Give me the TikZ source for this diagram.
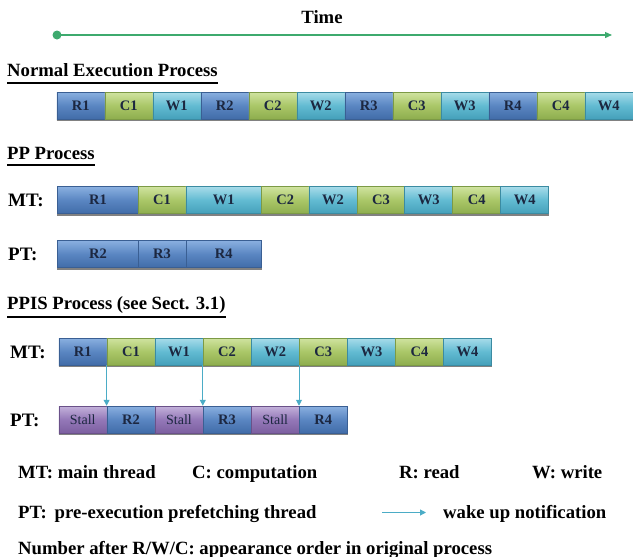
\documentclass[tikz,border=0pt]{standalone}
\usepackage{fontspec}
\setmainfont{Liberation Serif}
\usetikzlibrary{arrows.meta}
\definecolor{Rtop}{HTML}{8AB0E0}
\definecolor{Rmid}{HTML}{5A86C2}
\definecolor{Rbot}{HTML}{416CA8}
\definecolor{Rbd}{HTML}{3A5F93}
\definecolor{Ctop}{HTML}{D0E3A0}
\definecolor{Cmid}{HTML}{AAC768}
\definecolor{Cbot}{HTML}{8EAD4E}
\definecolor{Cbd}{HTML}{7C9A45}
\definecolor{Wtop}{HTML}{A8DCEA}
\definecolor{Wmid}{HTML}{62BBD2}
\definecolor{Wbot}{HTML}{45A0BA}
\definecolor{Wbd}{HTML}{3B8BA2}
\definecolor{Stop}{HTML}{C4B2DB}
\definecolor{Smid}{HTML}{9478B8}
\definecolor{Sbot}{HTML}{7C5FA0}
\definecolor{Sbd}{HTML}{6A5189}
\definecolor{celltext}{HTML}{1C2740}
\definecolor{timegreen}{HTML}{3DAA6E}
\definecolor{wakecol}{HTML}{4BACC6}
\begin{document}
\begin{tikzpicture}[x=1pt,y=-1pt,
  txt/.style={inner sep=0pt, font=\fontsize{18.7}{21}\selectfont\bfseries},
  head/.style={txt, anchor=base west},
  lbl/.style={txt, font=\fontsize{19}{21}\selectfont\bfseries, anchor=west},
  cell/.style={rectangle, inner sep=0pt, minimum height=27pt, anchor=west, text=celltext,
     font=\fontsize{14.5}{16}\selectfont\bfseries, line width=0.5pt},
  rb/.style={cell, draw=Rbd, top color=Rtop, bottom color=Rbot, middle color=Rmid},
  cb/.style={cell, draw=Cbd, top color=Ctop, bottom color=Cbot, middle color=Cmid},
  wb/.style={cell, draw=Wbd, top color=Wtop, bottom color=Wbot, middle color=Wmid},
  sb/.style={cell, draw=Sbd, top color=Stop, bottom color=Sbot, middle color=Smid,
     font=\fontsize{14}{16}\selectfont},
  rowshadow/.style={draw=black!70, line width=1.5pt, opacity=0.7},
  uline/.style={draw=black, line width=1.8pt},
  wake/.style={draw=wakecol, line width=1pt, -{Triangle[length=6pt,width=6pt]}},
  timeline/.style={draw=timegreen, line width=1.3pt, -{Triangle[length=7pt,width=6pt]}},
  dot/.style={circle, fill=timegreen, inner sep=0pt, minimum size=9pt}
]
\useasboundingbox (0,0) rectangle (633,557);

% time axis
\node[txt, anchor=base] (time) at (322,23) {Time};
\node[dot] (t0) at (57,35) {};
\coordinate (t1) at (612,35);
\draw[timeline] (t0.center) -- (t1);

% Normal execution
\node[head] (h1) at (7,76.5) {Normal Execution Process};
\draw[uline] (h1.west |- 0,83) -- (h1.east |- 0,83);
\foreach \lab/\typ [count=\i] in {R1/rb,C1/cb,W1/wb,R2/rb,C2/cb,W2/wb,R3/rb,C3/cb,W3/wb,R4/rb,C4/cb,W4/wb}
  \node[\typ, minimum width=48pt] (n\i) at ({56.5+48*(\i-1)},105.5) {\lab};
\draw[rowshadow] ([yshift=-1pt]n1.south west) -- ([yshift=-1pt]n12.south east);

% PP process
\node[head] (h2) at (7,159) {PP Process};
\draw[uline] (h2.west |- 0,165) -- (h2.east |- 0,165);
\node[lbl] (lmt1) at (8,200) {MT:};
\node[lbl] (lpt1) at (8,254) {PT:};
\foreach \lab/\typ/\xa/\xb [count=\i] in {R1/rb/57.3/138,C1/cb/138/185.5,W1/wb/185.5/261.3,C2/cb/261.3/308.5,W2/wb/308.5/357,C3/cb/357/404.4,W3/wb/404.4/452.4,C4/cb/452.4/500.4,W4/wb/500.4/548.4}
  \node[\typ, minimum width={\xb-\xa}] (a\i) at (\xa,200) {\lab};
\draw[rowshadow] ([yshift=-1pt]a1.south west) -- ([yshift=-1pt]a9.south east);
\foreach \lab/\typ/\xa/\xb [count=\i] in {R2/rb/57.3/138,R3/rb/138/185.5,R4/rb/185.5/261.3}
  \node[\typ, minimum width={\xb-\xa}] (b\i) at (\xa,254) {\lab};
\draw[rowshadow] ([yshift=-1pt]b1.south west) -- ([yshift=-1pt]b3.south east);

% PPIS process
\node[head] (h3) at (7,309.5) {PPIS Process (see Sect. 3.1)};
\draw[uline] (h3.west |- 0,317) -- (h3.east |- 0,317);
\node[lbl] (lmt2) at (10,352) {MT:};
\node[lbl] (lpt2) at (10,420) {PT:};
\foreach \lab/\typ [count=\i] in {R1/rb,C1/cb,W1/wb,C2/cb,W2/wb,C3/cb,W3/wb,C4/cb,W4/wb}
  \node[\typ, minimum width=48.1pt] (m\i) at ({58.5+48.1*(\i-1)},351.5) {\lab};
\draw[rowshadow] ([yshift=-1pt]m1.south west) -- ([yshift=-1pt]m9.south east);
\foreach \lab/\typ [count=\i] in {Stall/sb,R2/rb,Stall/sb,R3/rb,Stall/sb,R4/rb}
  \node[\typ, minimum width=48.1pt] (p\i) at ({58.5+48.1*(\i-1)},419.5) {\lab};
\draw[rowshadow] ([yshift=-1pt]p1.south west) -- ([yshift=-1pt]p6.south east);
\draw[wake] (m2.south west) -- (p2.north west);
\draw[wake] (m4.south west) -- (p4.north west);
\draw[wake] (m6.south west) -- (p6.north west);

% legend
\node[txt, anchor=base west] (g1) at (18,478) {MT: main thread};
\node[txt, anchor=base west] (g2) at (192,478) {C: computation};
\node[txt, anchor=base west] (g3) at (399,478) {R: read};
\node[txt, anchor=base west] (g4) at (532,478) {W: write};
\node[txt, anchor=base west] (g5) at (18,518) {PT:\, pre-execution prefetching thread};
\coordinate (la) at (382,512.5);
\coordinate (lb) at (426,512.5);
\draw[wake] (la) -- (lb);
\node[txt, anchor=base west] (g6) at (443,518) {wake up notification};
\node[txt, anchor=base west] (g7) at (18,554) {Number after R/W/C: appearance order in original process};
\end{tikzpicture}
\end{document}
